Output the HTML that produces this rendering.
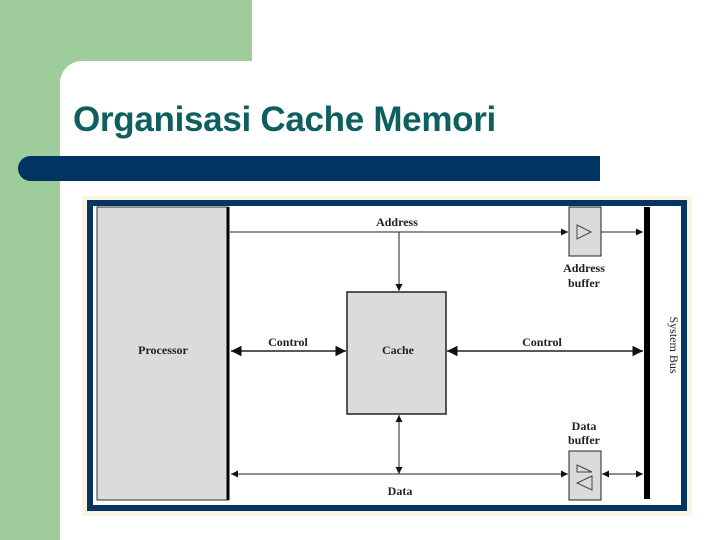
<!DOCTYPE html>
<html><head><meta charset="utf-8"><style>
html,body{margin:0;padding:0}
body{width:720px;height:540px;position:relative;overflow:hidden;background:#fff;font-family:"Liberation Sans",sans-serif}
.g1{position:absolute;left:0;top:0;width:60px;height:540px;background:#9ecc9b}
.g2{position:absolute;left:0;top:0;width:252px;height:61px;background:#9ecc9b}
.g3{position:absolute;left:60px;top:61px;width:30px;height:30px;background:#9ecc9b}
.wc{position:absolute;left:60px;top:61px;width:60px;height:60px;background:#fff;border-top-left-radius:22px}
.title{position:absolute;left:73px;top:100px;font-size:35px;font-weight:bold;color:#0e6060;white-space:nowrap;letter-spacing:-0.3px}
.bar{position:absolute;left:18px;top:156px;width:582px;height:25px;background:#003462;border-radius:13px 0 0 13px}
svg{position:absolute;left:0;top:0}
</style></head><body>
<div class="g1"></div><div class="g2"></div><div class="g3"></div><div class="wc"></div>
<div class="title">Organisasi Cache Memori</div>
<div class="bar"></div>
<svg width="720" height="540" viewBox="0 0 720 540">
<defs>
<marker id="a" viewBox="0 0 10 10" refX="10" refY="5" markerWidth="7" markerHeight="7" orient="auto-start-reverse"><path d="M0,0L10,5L0,10z" fill="#111"/></marker>
</defs>
<rect x="82" y="196" width="610" height="320" fill="#fbf4e4"/>
<rect x="90" y="203" width="594" height="305" fill="#fff" stroke="#053563" stroke-width="6"/>
<rect x="97" y="207" width="131" height="293" fill="#dcdbdc" stroke="#333" stroke-width="1"/>
<line x1="228" y1="207" x2="228" y2="500" stroke="#000" stroke-width="3"/>
<rect x="347" y="292" width="99" height="122" fill="#dcdbdc" stroke="#222" stroke-width="1.5"/>
<rect x="569" y="207" width="32" height="49" fill="#dcdbdc" stroke="#222" stroke-width="1"/>
<rect x="569" y="451" width="32" height="49" fill="#dcdbdc" stroke="#222" stroke-width="1"/>
<rect x="644" y="207" width="6" height="292" fill="#000"/>
<path d="M577,225 L591,232 L577,239z" fill="none" stroke="#444"/>
<path d="M577,465 L592,472 L577,472z" fill="none" stroke="#444"/>
<path d="M592,476 L577,483 L592,490z" fill="none" stroke="#444"/>
<g stroke="#222" stroke-width="1" fill="none">
<line x1="230" y1="232" x2="568" y2="232" marker-end="url(#a)"/>
<line x1="601" y1="232" x2="643" y2="232" marker-end="url(#a)"/>
<line x1="399" y1="232" x2="399" y2="291" marker-end="url(#a)"/>
<line x1="231" y1="351" x2="346" y2="351" stroke-width="1.5" marker-start="url(#a)" marker-end="url(#a)"/>
<line x1="447" y1="351" x2="643" y2="351" stroke-width="1.5" marker-start="url(#a)" marker-end="url(#a)"/>
<line x1="399" y1="415" x2="399" y2="474" marker-start="url(#a)" marker-end="url(#a)"/>
<line x1="231" y1="474" x2="568" y2="474" marker-start="url(#a)" marker-end="url(#a)"/>
<line x1="602" y1="474" x2="643" y2="474" marker-start="url(#a)" marker-end="url(#a)"/>
</g>
<g font-family="Liberation Serif,serif" font-weight="bold" font-size="12" fill="#222" text-anchor="middle">
<text x="397" y="226">Address</text>
<text x="584" y="272">Address</text>
<text x="584" y="287">buffer</text>
<text x="163" y="354">Processor</text>
<text x="288" y="346">Control</text>
<text x="398" y="354">Cache</text>
<text x="542" y="346">Control</text>
<text x="584" y="430">Data</text>
<text x="584" y="444">buffer</text>
<text x="400" y="495">Data</text>
<text transform="translate(670,345) rotate(90)" font-weight="normal">System Bus</text>
</g>
</svg>
</body></html>
